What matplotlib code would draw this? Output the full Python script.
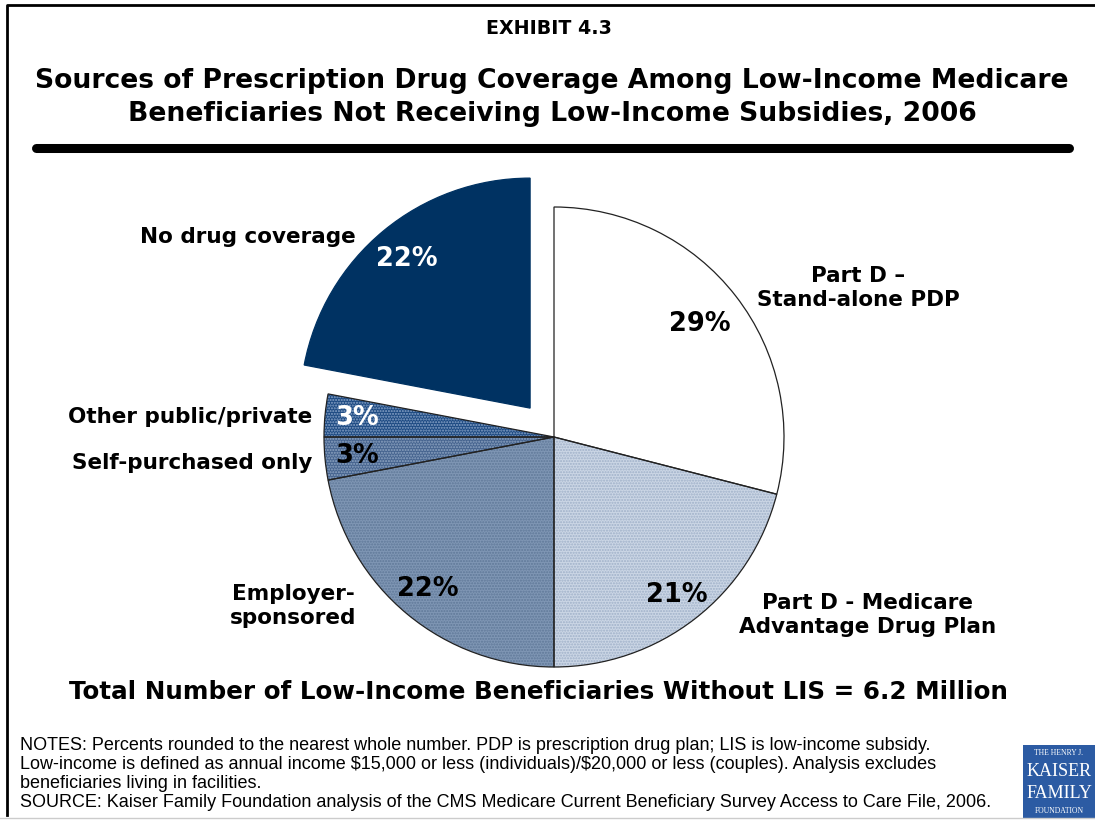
import matplotlib.pyplot as plt
import numpy as np
from matplotlib.patches import Rectangle

# coverage sources, clockwise from 12 o'clock
sources = ["Part D \u2013\nStand-alone PDP", "Part D - Medicare\nAdvantage Drug Plan",
           "Employer-\nsponsored", "Self-purchased only", "Other public/private",
           "No drug coverage"]
shares = [29, 21, 22, 3, 3, 22]

face_colors = ["#FFFFFF", "#CBD6E5", "#7F96B4", "#46648F", "#1D4A82", "#003262"]
hatch_colors = ["#FFFFFF", "#9FB0C8", "#5F7898", "#8FA5C2", "#8AA4C8", "#003262"]
hatches = [None, "......", "......", "......", "......", None]
pct_colors = ["black", "black", "black", "black", "white", "white"]
pct_radius = [0.80, 0.87, 0.86, 0.86, 0.86, 0.84]

W, H = 1095, 824
fig = plt.figure(figsize=(W / 100, H / 100), dpi=100)
ax = fig.add_axes([0, 0, 1, 1])

def Y(y):
    # pixel rows are counted from the top
    return H - y

cx, cy, R = 554, Y(437), 230
# pie() takes explode offsets in data units
explode = [0, 0, 0, 0, 0, 0.163 * R]

# fills with coloured hatching, then the black outlines on top
wedges, _ = ax.pie(shares, startangle=90, counterclock=False, radius=R,
                   center=(cx, cy), explode=explode, colors=face_colors,
                   wedgeprops=dict(linewidth=0))
for w, hc, h in zip(wedges, hatch_colors, hatches):
    if h:
        w.set_edgecolor(hc)
        w.set_hatch(h)
outlines, _ = ax.pie(shares, startangle=90, counterclock=False, radius=R,
                     center=(cx, cy), explode=explode,
                     wedgeprops=dict(facecolor="none", edgecolor="#222222",
                                     linewidth=0.9))
outlines[-1].set_edgecolor("#003262")

for w, v, col, rr in zip(wedges, shares, pct_colors, pct_radius):
    mid = np.deg2rad((w.theta1 + w.theta2) / 2)
    px = w.center[0] + rr * R * np.cos(mid)
    py = w.center[1] + rr * R * np.sin(mid)
    ax.text(px, py, f"{v}%", ha="center", va="center", fontsize=18.5,
            fontweight="bold", color=col)

lab = dict(fontsize=15.5, fontweight="bold", color="black", va="center",
           linespacing=1.22)
ax.text(858, Y(288), sources[0], ha="center", **lab)
ax.text(868, Y(615), sources[1], ha="center", **lab)
ax.text(293, Y(606), sources[2], ha="center", **lab)
ax.text(312, Y(463), sources[3], ha="right", **lab)
ax.text(312, Y(417), sources[4], ha="right", **lab)
ax.text(356, Y(237), sources[5], ha="right", **lab)

# heading
ax.text(549, Y(28), "EXHIBIT 4.3", ha="center", va="center", fontsize=13.7,
        fontweight="bold")
ax.text(552, Y(81), "Sources of Prescription Drug Coverage Among Low-Income Medicare",
        ha="center", va="center", fontsize=19.2, fontweight="bold")
ax.text(552, Y(114), "Beneficiaries Not Receiving Low-Income Subsidies, 2006",
        ha="center", va="center", fontsize=19.2, fontweight="bold")
ax.plot([36, 1069], [Y(148), Y(148)], color="black", lw=6.5, solid_capstyle="round")

ax.text(538, Y(692), "Total Number of Low-Income Beneficiaries Without LIS = 6.2 Million",
        ha="center", va="center", fontsize=17.7, fontweight="bold")

notes = ["NOTES: Percents rounded to the nearest whole number. PDP is prescription drug plan; LIS is low-income subsidy.",
         "Low-income is defined as annual income \\$15,000 or less (individuals)/\\$20,000 or less (couples). Analysis excludes",
         "beneficiaries living in facilities.",
         "SOURCE: Kaiser Family Foundation analysis of the CMS Medicare Current Beneficiary Survey Access to Care File, 2006."]
for i, line in enumerate(notes):
    ax.text(20, Y(745 + 19.2 * i), line, ha="left", va="center", fontsize=13.0,
            family="Liberation Sans")

# frame
ax.plot([7, 7, W], [Y(815), Y(5), Y(5)], color="black", lw=2)
ax.plot([0, W], [Y(818), Y(818)], color="#CCCCCC", lw=1)

# foundation logo
ax.add_patch(Rectangle((1023, Y(818)), 72, 73, facecolor="#2C5BA3", edgecolor="none"))
logo = dict(color="white", family="Liberation Serif", ha="center", va="center")
ax.text(1059, Y(753), "THE HENRY J.", fontsize=5.5, **logo)
ax.text(1059, Y(772), "KAISER", fontsize=13, **logo)
ax.text(1059, Y(794), "FAMILY", fontsize=13, **logo)
ax.text(1059, Y(811), "FOUNDATION", fontsize=5.5, **logo)

ax.set_xlim(0, W)
ax.set_ylim(0, H)
ax.set_aspect("auto")
ax.axis("off")

fig.savefig("out.png", dpi=100)
